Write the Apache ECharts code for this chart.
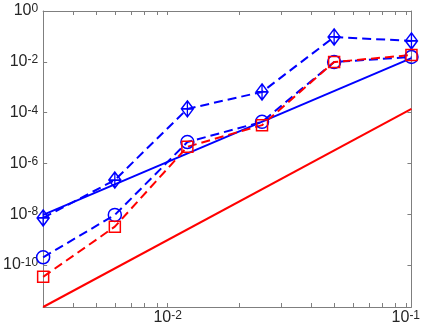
<!DOCTYPE html>
<html>
<head>
<meta charset="utf-8">
<script src="https://cdn.jsdelivr.net/npm/echarts@6/dist/echarts.min.js"></script>
<style>
  html, body { margin: 0; padding: 0; background: #fff; }
  #chart { width: 423px; height: 327px; }
</style>
</head>
<body>
<div id="chart"></div>
<script>
// mesh sizes and errors
const hValues = [0.0030, 0.0060, 0.0121, 0.0249, 0.050, 0.1056];
const errDiamond = [7.1e-9, 2.2e-7, 1.4e-4, 6.5e-4, 9.5e-2, 6.6e-2];
const errCircle = [2.0e-10, 9.3e-9, 6.9e-6, 4.3e-5, 9.8e-3, 1.55e-2];
const errSquare = [3.4e-11, 3.2e-9, 4.5e-6, 3.2e-5, 9.8e-3, 1.85e-2];

// reference slopes (straight lines in log-log)
const refH = [0.0030, 0.1056];
const refBlue = [9.3e-9, 1.4e-2];
const refRed = [2.2e-12, 1.4e-4];

const xRange = [0.0030, 0.1056];
const yRange = [2.2e-12, 1];
const xTicks = [0.003, 0.004, 0.005, 0.006, 0.007, 0.008, 0.009,
  0.01, 0.02, 0.03, 0.04, 0.05, 0.06, 0.07, 0.08, 0.09, 0.1];
const xLabels = [0.01, 0.1];
const yTicks = [1e-10, 1e-8, 1e-6, 1e-4, 1e-2, 1];

const AX = '#7f7f7f';
const TXT = '#262626';
const FONT = 'Liberation Sans';

const powLabel = v => '{b|10}{s|' + Math.round(Math.log10(v)) + '}';
const rich = {
  b: { fontSize: 16, fontFamily: FONT, color: TXT, lineHeight: 16, padding: [3, 0, 0, 0], verticalAlign: 'bottom' },
  s: { fontSize: 12, fontFamily: FONT, color: TXT, lineHeight: 12, verticalAlign: 'top' }
};

const diamondPlus = 'path://M6,0L12,8L6,16L0,8ZM6,0L6,16M0,8L12,8';
const pts = (xs, ys) => xs.map((x, i) => [x, ys[i]]);

const makeX = (pos, labels) => ({
  type: 'log', logBase: 10, min: xRange[0], max: xRange[1], position: pos,
  axisLine: { show: true, onZero: false, lineStyle: { color: AX, width: 1 } },
  axisTick: { show: true, inside: true, length: 4, customValues: xTicks, lineStyle: { color: AX } },
  axisLabel: labels
    ? { show: true, customValues: xLabels, formatter: powLabel, rich: rich, margin: 3 }
    : { show: false },
  splitLine: { show: false }
});
const makeY = (pos, labels) => ({
  type: 'log', logBase: 10, min: yRange[0], max: yRange[1], position: pos,
  axisLine: { show: true, onZero: false, lineStyle: { color: AX, width: 1 } },
  axisTick: { show: true, inside: true, length: 4, customValues: yTicks, lineStyle: { color: AX } },
  axisLabel: labels
    ? { show: true, customValues: yTicks, formatter: powLabel, rich: rich, margin: 5 }
    : { show: false },
  splitLine: { show: false }
});

const markerSeries = (name, data, color, symbol, size) => ({
  name: name, type: 'line', data: data, clip: false,
  symbol: symbol, symbolSize: size, showAllSymbol: true,
  lineStyle: { color: color, width: 2, type: [9, 5] },
  itemStyle: { color: 'rgba(0,0,0,0)', borderColor: color, borderWidth: 1.5 }
});

const chart = echarts.init(document.getElementById('chart'));
chart.setOption({
  animation: false,
  backgroundColor: '#fff',
  grid: { left: 40, right: 9, top: 11, bottom: 20 },
  xAxis: [makeX('bottom', true), makeX('top', false)],
  yAxis: [makeY('left', true), makeY('right', false)],
  series: [
    { name: 'ref4', type: 'line', data: pts(refH, refBlue), symbol: 'none',
      lineStyle: { color: '#0000ff', width: 2 } },
    { name: 'ref5', type: 'line', data: pts(refH, refRed), symbol: 'none',
      lineStyle: { color: '#ff0000', width: 2 } },
    markerSeries('diamond', pts(hValues, errDiamond), '#0000ff', diamondPlus, [12, 16]),
    markerSeries('circle', pts(hValues, errCircle), '#0000ff', 'circle', 13),
    markerSeries('square', pts(hValues, errSquare), '#ff0000', 'rect', 11)
  ]
});
</script>
</body>
</html>
